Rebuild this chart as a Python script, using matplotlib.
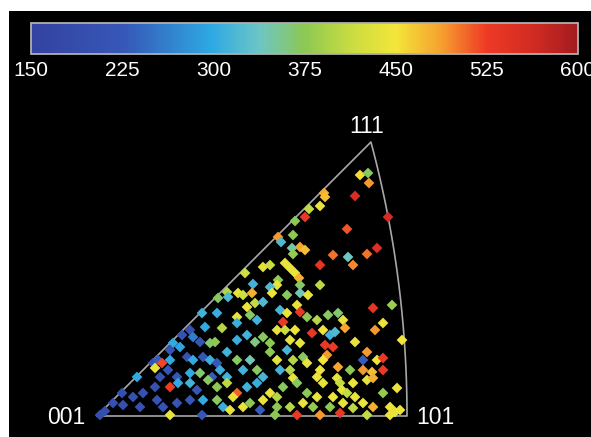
import numpy as np
import matplotlib
matplotlib.use("Agg")
import matplotlib.pyplot as plt
from matplotlib.colors import LinearSegmentedColormap, Normalize
from matplotlib.patches import Rectangle
from matplotlib.cm import ScalarMappable

plt.rcParams['font.family'] = ['Liberation Sans', 'DejaVu Sans']

# grain positions in the [001]-[101]-[111] stereographic triangle
# (units: the 001-101 edge is 310 long) and the mapped value of each grain
px = [263, 271, 272, 227, 228, 258, 223, 212, 291, 198,
      208, 250, 181, 184, 196, 203, 208, 195, 196, 280,
      270, 251, 256, 236, 223, 166, 173, 188, 193, 198,
      202, 148, 156, 181, 180, 203, 223, 130, 141, 146,
      155, 173, 175, 190, 203, 211, 121, 131, 150, 158,
      166, 183, 200, 203, 276, 295, 105, 120, 140, 153,
      160, 190, 186, 210, 220, 231, 241, 246, 248, 286,
      278, 93, 108, 125, 140, 85, 96, 180, 188, 198,
      215, 226, 233, 238, 305, 76, 83, 73, 103, 113,
      118, 140, 150, 158, 166, 173, 193, 203, 228, 236,
      230, 226, 258, 270, 266, 280, 286, 56, 61, 58,
      65, 73, 90, 96, 106, 113, 120, 130, 140, 153,
      173, 180, 190, 196, 206, 210, 223, 241, 253, 266,
      275, 286, 40, 63, 71, 80, 93, 103, 115, 123,
      130, 146, 160, 166, 183, 193, 196, 220, 226, 240,
      243, 245, 256, 270, 276, 25, 36, 46, 58, 73,
      81, 93, 100, 111, 120, 130, 140, 136, 150, 160,
      173, 180, 166, 186, 200, 210, 220, 236, 250, 258,
      286, 300, 16, 8, 3, 26, 43, 60, 66, 80,
      93, 106, 120, 126, 133, 146, 153, 163, 180, 193,
      206, 216, 233, 246, 256, 266, 276, 293, 298, 303,
      73, 105, 178, 200, 223, 243, 270, 293]
py = [241, 243, 233, 223, 219, 220, 210, 207, 199, 195,
      199, 187, 179, 174, 181, 169, 166, 168, 162, 168,
      162, 159, 151, 161, 151, 149, 151, 153, 148, 143,
      138, 143, 132, 136, 131, 131, 131, 124, 123, 121,
      123, 129, 123, 121, 123, 121, 118, 119, 109, 113,
      114, 106, 111, 104, 108, 111, 103, 103, 99, 101,
      96, 103, 94, 99, 96, 101, 103, 96, 88, 93,
      86, 86, 89, 88, 93, 81, 79, 86, 86, 86,
      83, 86, 81, 84, 76, 73, 69, 66, 74, 73,
      74, 76, 81, 74, 79, 73, 76, 73, 71, 69,
      61, 56, 74, 64, 56, 56, 58, 53, 56, 48,
      53, 56, 59, 56, 59, 56, 53, 64, 56, 56,
      64, 56, 66, 56, 59, 53, 46, 49, 46, 46,
      44, 46, 39, 39, 46, 39, 43, 43, 39, 46,
      39, 46, 46, 39, 46, 46, 38, 39, 33, 38,
      33, 26, 33, 36, 38, 23, 19, 23, 29, 29,
      33, 33, 26, 36, 29, 33, 23, 19, 29, 33,
      23, 19, 16, 29, 33, 23, 19, 19, 23, 19,
      23, 28, 13, 5, 1, 11, 9, 16, 9, 13,
      16, 16, 16, 9, 6, 9, 13, 6, 9, 9,
      13, 9, 9, 13, 8, 13, 9, 9, 4, 6,
      1, 1, 1, 1, 1, 3, 1, 1]
val = [455, 370, 490, 480, 470, 555, 440, 410, 560, 375,
       530, 515, 490, 320, 375, 485, 470, 350, 380, 550,
       505, 340, 495, 505, 535, 435, 415, 440, 445, 445,
       480, 420, 310, 380, 440, 370, 405, 400, 440, 420,
       480, 320, 445, 370, 345, 440, 370, 320, 445, 410,
       320, 315, 440, 530, 535, 385, 310, 305, 440, 370,
       310, 445, 530, 375, 400, 370, 365, 440, 485, 445,
       490, 200, 300, 400, 305, 210, 260, 440, 415, 445,
       530, 445, 310, 320, 450, 300, 295, 210, 215, 365,
       375, 305, 310, 360, 370, 375, 440, 440, 530, 525,
       490, 450, 440, 490, 230, 445, 530, 205, 230, 440,
       520, 300, 205, 300, 220, 305, 225, 310, 370, 345,
       375, 435, 315, 400, 370, 440, 445, 485, 375, 490,
       470, 530, 300, 205, 215, 220, 300, 365, 230, 305,
       310, 310, 370, 315, 310, 400, 440, 445, 440, 440,
       410, 440, 445, 440, 480, 200, 205, 210, 205, 525,
       300, 310, 220, 370, 375, 405, 510, 440, 310, 305,
       440, 400, 440, 370, 370, 375, 440, 445, 410, 440,
       380, 445, 200, 195, 195, 200, 205, 210, 210, 215,
       220, 300, 370, 305, 440, 440, 375, 230, 375, 400,
       440, 380, 375, 440, 405, 445, 480, 445, 440, 445,
       440, 220, 375, 530, 490, 530, 410, 445]

cbar_ticks = [150, 225, 300, 375, 450, 525, 600]
corner_labels = ['001', '101', '111']

cmap = LinearSegmentedColormap.from_list('ipf', [
    (0.00, '#3442a0'), (0.17, '#3658b8'), (0.33, '#2ea9e2'),
    (0.42, '#6ec6c4'), (0.50, '#8cc853'), (0.58, '#c6db41'),
    (0.667, '#f3e63a'), (0.75, '#f6a12f'), (0.833, '#ee3a25'),
    (0.92, '#d12b22'), (1.00, '#a31c20')])
norm = Normalize(150, 600)

fig = plt.figure(figsize=(5.91, 4.37), dpi=100)
fig.patch.set_facecolor('white')
fig.add_artist(Rectangle((9 / 591, 0), 1, 426 / 437, transform=fig.transFigure,
                         facecolor='black', edgecolor='none', zorder=-10))

ax = fig.add_axes([0, 0, 1, 1])
ax.set_xlim(-97, 494)
ax.set_ylim(-21, 416)
ax.patch.set_alpha(0)
ax.axis('off')

# standard triangle: straight 001-111 edge, great-circle arc 101-111
R = 310 / np.tan(np.pi / 8)
t = np.linspace(0, 1, 120)
n = np.sqrt(2 + t ** 2)
tri_x = np.concatenate([[0], R / (n + 1), [0]])
tri_y = np.concatenate([[0], R * t / (n + 1), [0]])
ax.plot(tri_x, tri_y, color='#a8a8a8', lw=1.2, zorder=1)

ax.scatter(px, py, c=val, cmap=cmap, norm=norm, marker='D', s=30,
           linewidths=0, zorder=2)

corners = [(0, 0), (310, 0), (R / (np.sqrt(3) + 1), R / (np.sqrt(3) + 1))]
offsets = [(-8.5, -6), (7, -6), (-3, 6.5)]
aligns = [('right', 'baseline'), ('left', 'baseline'), ('center', 'baseline')]
for lab, xy, off, (ha, va) in zip(corner_labels, corners, offsets, aligns):
    ax.annotate(lab, xy, xytext=off, textcoords='offset points', ha=ha, va=va,
                color='white', fontsize=16.5)

cax = fig.add_axes([31 / 591, 1 - 54 / 437, 547 / 591, 31 / 437])
cb = fig.colorbar(ScalarMappable(norm=norm, cmap=cmap), cax=cax,
                  orientation='horizontal', ticks=cbar_ticks)
cb.outline.set_edgecolor('#b0b0b0')
cb.outline.set_linewidth(1.3)
cax.tick_params(colors='white', labelsize=15, length=0, pad=5)

fig.savefig('out.png', dpi=100)
